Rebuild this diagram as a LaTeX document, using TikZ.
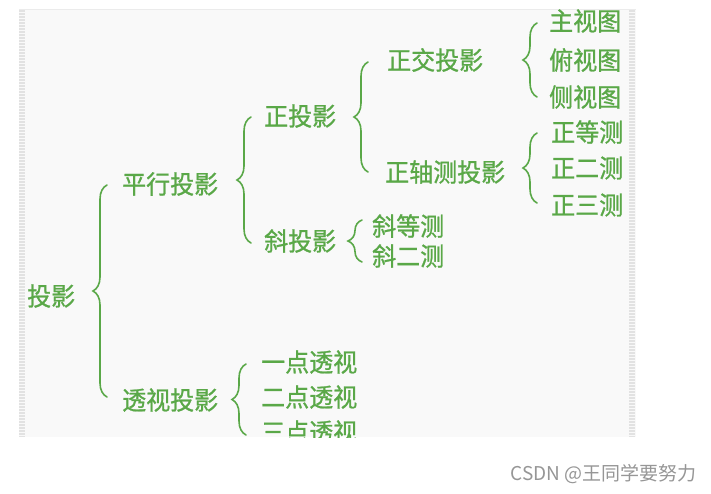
\documentclass[tikz,border=0pt]{standalone}
\usepackage{fontspec}
\setmainfont{Noto Sans CJK SC}
\newfontfamily\lblfont[FakeBold=0.9]{Noto Sans CJK SC}
\usetikzlibrary{decorations.pathreplacing}
\definecolor{tgreen}{RGB}{90,168,72}
\definecolor{panelbg}{RGB}{249,249,249}
\definecolor{stripe}{RGB}{226,226,226}
\definecolor{wmark}{RGB}{150,150,150}
\tikzset{
  lbl/.style={anchor=west, inner sep=0pt, text=tgreen, yscale=1.06, font=\lblfont\fontsize{24}{24}\selectfont},
  brc/.style={draw=tgreen, line width=1.6pt, line cap=round,
    decorate, decoration={brace, amplitude=14pt, aspect=0.5}},
  strip/.style={draw=stripe, line width=6pt, dash pattern=on 1.5pt off 1.5pt}
}
\begin{document}
\begin{tikzpicture}[x=1pt,y=1pt]
\useasboundingbox (0,0) rectangle (711,-493);
\fill[white] (0,0) rectangle (711,-493);
\fill[panelbg] (19,-9) rectangle (636,-437);
\draw[stripe!70, line width=0.8pt] (19,-9) -- (636,-9);
\draw[strip] (22,-10) -- (22,-437);
\draw[strip] (632,-10) -- (632,-437);
\begin{scope}
\clip (19,-9) rectangle (636,-437);
% level 0
\node[lbl] (tou) at (27,-296) {投影};
% level 1
\node[lbl] (px) at (122,-184) {平行投影};
\node[lbl] (ts) at (122,-400) {透视投影};
% level 2
\node[lbl] (zt) at (264,-116) {正投影};
\node[lbl] (xt) at (264,-241) {斜投影};
\node[lbl] (yd) at (261,-362) {一点透视};
\node[lbl] (ed) at (261,-397) {二点透视};
\node[lbl] (sd) at (261,-432) {三点透视};
% level 3
\node[lbl] (zj) at (387,-60) {正交投影};
\node[lbl] (zz) at (385,-172) {正轴测投影};
\node[lbl] (xd) at (372,-226) {斜等测};
\node[lbl] (xe) at (372,-256) {斜二测};
% level 4
\node[lbl] (zs) at (549,-21) {主视图};
\node[lbl] (fs) at (549,-60) {俯视图};
\node[lbl] (cs) at (549,-97) {侧视图};
\node[lbl] (zd) at (551,-132) {正等测};
\node[lbl] (ze) at (551,-168) {正二测};
\node[lbl] (zsan) at (551,-205) {正三测};
% braces
\coordinate (b1t) at (107,-185); \coordinate (b1b) at (107,-397);
\coordinate (b2t) at (251,-117); \coordinate (b2b) at (251,-243);
\coordinate (b3t) at (368,-62);  \coordinate (b3b) at (368,-172);
\coordinate (b4t) at (362,-220); \coordinate (b4b) at (362,-262);
\coordinate (b5t) at (537,-23);  \coordinate (b5b) at (537,-97);
\coordinate (b6t) at (537,-133); \coordinate (b6b) at (537,-203);
\coordinate (b7t) at (246,-364); \coordinate (b7b) at (246,-435);
\draw[brc] (b1b) -- (b1t);
\draw[brc] (b2b) -- (b2t);
\draw[brc] (b3b) -- (b3t);
\draw[brc] (b4b) -- (b4t);
\draw[brc] (b5b) -- (b5t);
\draw[brc] (b6b) -- (b6t);
\draw[brc] (b7b) -- (b7t);
\end{scope}
\node[anchor=east, inner sep=0pt, text=wmark, font=\fontsize{19}{19}\selectfont] (wm) at (697,-474) {CSDN @王同学要努力};
\end{tikzpicture}
\end{document}
